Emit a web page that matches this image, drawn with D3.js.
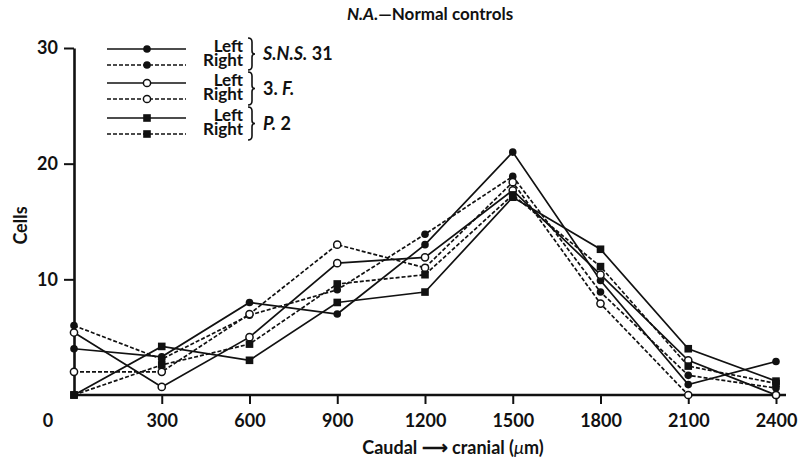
<!DOCTYPE html>
<html>
<head>
<meta charset="utf-8">
<script src="https://cdn.jsdelivr.net/npm/d3@7"></script>
<style>
  html, body { margin: 0; padding: 0; background: #fff; }
  svg { display: block; }
  text { font-family: Lato, "Open Sans", sans-serif; fill: #111; }
</style>
</head>
<body>
<svg id="chart" width="799" height="463"></svg>
<script>
// Distance along the cord (µm), caudal to cranial
const positions = [0, 300, 600, 900, 1200, 1500, 1800, 2100, 2400];

// Cell counts per level, one array per side and specimen
const snsLeft  = [4.0, 3.3, 8.0, 7.0, 13.0, 21.0, 9.9, 0.9, 2.9];
const snsRight = [6.0, 3.1, 6.9, 9.1, 13.9, 18.9, 8.9, 1.7, 0.6];
const fLeft    = [5.4, 0.7, 5.0, 11.4, 11.9, 17.7, 10.4, 3.0, 0.0];
const fRight   = [2.0, 2.0, 7.0, 13.0, 11.0, 18.4, 7.9, 0.0, 0.0];
const pLeft    = [0.0, 4.2, 3.0, 8.0, 8.9, 17.1, 12.6, 4.0, 1.2];
const pRight   = [0.0, 2.6, 4.4, 9.6, 10.4, 17.3, 11.1, 2.5, 1.0];

const xTicks = [300, 600, 900, 1200, 1500, 1800, 2100, 2400];
const yTicks = [10, 20, 30];
const sideLabels = ["Left", "Right", "Left", "Right", "Left", "Right"];

const series = [
  { values: snsLeft,  dashed: false, marker: "dot" },
  { values: snsRight, dashed: true,  marker: "dot" },
  { values: fLeft,    dashed: false, marker: "ring" },
  { values: fRight,   dashed: true,  marker: "ring" },
  { values: pLeft,    dashed: false, marker: "square" },
  { values: pRight,   dashed: true,  marker: "square" }
];

const svg = d3.select("#chart");
svg.append("rect").attr("width", 799).attr("height", 463).attr("fill", "#fff");

const x = d3.scaleLinear().domain([0, 2400]).range([74, 776]);
const y = d3.scaleLinear().domain([0, 30]).range([395, 48]);

const ink = "#111";

// Title
const title = svg.append("text")
  .attr("x", 430).attr("y", 20)
  .attr("text-anchor", "middle")
  .style("font-size", "17px").style("font-weight", "700");
title.append("tspan").style("font-style", "italic").text("N.A.");
title.append("tspan").text("—Normal controls");

// Y axis
const yAxis = svg.append("g")
  .attr("transform", `translate(${x(0)},0)`)
  .call(d3.axisLeft(y).tickValues(yTicks).tickSize(10).tickSizeOuter(0).tickPadding(6));
yAxis.select(".domain").attr("stroke", ink).attr("stroke-width", 2.6);
yAxis.selectAll(".tick line").attr("stroke", ink).attr("stroke-width", 2);
yAxis.selectAll(".tick text")
  .style("font-size", "18px").style("font-weight", "700")
  .style("font-family", "Lato, sans-serif").attr("fill", ink);

// X axis
const xAxis = svg.append("g")
  .attr("transform", `translate(0,${y(0)})`)
  .call(d3.axisBottom(x).tickValues(xTicks).tickFormat(d3.format("d"))
    .tickSize(9).tickSizeOuter(0).tickPadding(10));
xAxis.select(".domain").remove();
xAxis.append("line")
  .attr("x1", x(0)).attr("x2", x(2400) + 10)
  .attr("stroke", ink).attr("stroke-width", 2.6);
xAxis.selectAll(".tick line").attr("stroke", ink).attr("stroke-width", 2);
xAxis.selectAll(".tick text")
  .style("font-size", "18px").style("font-weight", "700")
  .style("font-family", "Lato, sans-serif").attr("fill", ink);
// shared origin label sits left of the corner
svg.append("text")
  .attr("x", x(0) - 26).attr("y", y(0) + 32)
  .attr("text-anchor", "middle")
  .style("font-size", "18px").style("font-weight", "700")
  .text("0");

// Axis titles
svg.append("text")
  .attr("transform", `translate(27,${(y(0) + y(30)) / 2 + 4}) rotate(-90)`)
  .attr("text-anchor", "middle")
  .style("font-size", "18px").style("font-weight", "700")
  .text("Cells");

const xt = svg.append("text")
  .attr("x", 453).attr("y", 454)
  .attr("text-anchor", "middle")
  .style("font-size", "18px").style("font-weight", "700");
xt.append("tspan").text("Caudal ");
xt.append("tspan").text("⟶");
xt.append("tspan").text(" cranial (");
xt.append("tspan").style("font-style", "italic").style("font-weight", "400").text("μ");
xt.append("tspan").text("m)");

// Marker drawing
function drawMarker(g, type, cx, cy) {
  if (type === "square") {
    g.append("rect")
      .attr("x", cx - 3.8).attr("y", cy - 3.8)
      .attr("width", 7.6).attr("height", 7.6)
      .attr("fill", ink);
  } else if (type === "ring") {
    g.append("circle")
      .attr("cx", cx).attr("cy", cy).attr("r", 3.6)
      .attr("fill", "#fff").attr("stroke", ink).attr("stroke-width", 1.5);
  } else {
    g.append("circle")
      .attr("cx", cx).attr("cy", cy).attr("r", 3.8)
      .attr("fill", ink);
  }
}

// Series lines
const line = d3.line()
  .x((d, i) => x(positions[i]))
  .y(d => y(d));

const plot = svg.append("g");
series.forEach(s => {
  plot.append("path")
    .datum(s.values)
    .attr("d", line)
    .attr("fill", "none")
    .attr("stroke", ink)
    .attr("stroke-width", 1.7)
    .attr("stroke-dasharray", s.dashed ? "4,2" : null);
});
series.forEach(s => {
  const g = plot.append("g");
  s.values.forEach((v, i) => drawMarker(g, s.marker, x(positions[i]), y(v)));
});

// Legend
const legend = svg.append("g");
const rowY = [49, 65, 83, 99, 118, 134];
series.forEach((s, i) => {
  const ly = rowY[i];
  legend.append("line")
    .attr("x1", 107).attr("x2", 186)
    .attr("y1", ly).attr("y2", ly)
    .attr("stroke", ink).attr("stroke-width", 1.7)
    .attr("stroke-dasharray", s.dashed ? "4,2" : null);
  drawMarker(legend, s.marker, 147, ly);
  legend.append("text")
    .attr("x", 243).attr("y", ly + (i % 2 === 0 ? 3 : 1))
    .attr("text-anchor", "end")
    .style("font-size", "17px").style("font-weight", "700")
    .text(sideLabels[i]);
});

// Curly braces grouping the left/right pairs
function brace(top, bottom, xl) {
  const mid = (top + bottom) / 2;
  const w = 4;
  return `M${xl},${top} Q${xl + w},${top} ${xl + w},${top + 4} L${xl + w},${mid - 3} Q${xl + w},${mid} ${xl + w + 3},${mid}` +
         ` Q${xl + w},${mid} ${xl + w},${mid + 3} L${xl + w},${bottom - 4} Q${xl + w},${bottom} ${xl},${bottom}`;
}
const groups = [
  { top: 38, bottom: 70, parts: [["S.N.S.", true], [" 31", false]] },
  { top: 72, bottom: 105, parts: [["3. ", false], ["F.", true]] },
  { top: 107, bottom: 140, parts: [["P.", true], [" 2", false]] }
];
groups.forEach(gr => {
  legend.append("path")
    .attr("d", brace(gr.top, gr.bottom, 248))
    .attr("fill", "none").attr("stroke", ink).attr("stroke-width", 1.6);
  const t = legend.append("text")
    .attr("x", 263).attr("y", (gr.top + gr.bottom) / 2 + 6)
    .style("font-size", "18px").style("font-weight", "700");
  gr.parts.forEach(p => t.append("tspan").style("font-style", p[1] ? "italic" : "normal").text(p[0]));
});
</script>
</body>
</html>
